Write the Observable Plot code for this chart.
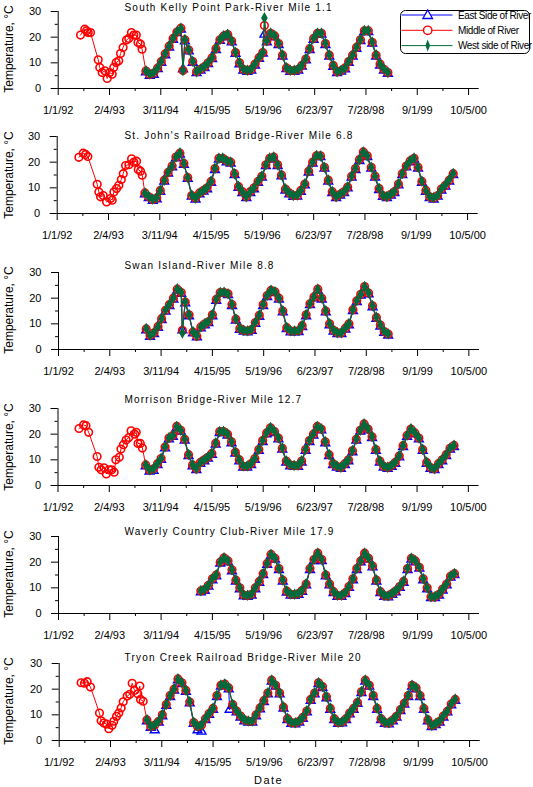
<!DOCTYPE html>
<html><head><meta charset="utf-8">
<script src="https://cdn.jsdelivr.net/npm/d3@7"></script>
<script src="https://cdn.jsdelivr.net/npm/@observablehq/plot@0.6"></script>
<style>
body{margin:0;background:#fff;}
#wrap{position:relative;width:533px;height:787px;overflow:hidden;font-family:Arial,"Liberation Sans",sans-serif;color:#000;background:#fff;}
.ttl{position:absolute;font-size:10px;letter-spacing:1.2px;white-space:nowrap;line-height:10px;}
.ylab{position:absolute;font-size:12px;white-space:nowrap;width:120px;height:14px;text-align:center;transform:rotate(-90deg);line-height:14px;}
.panel{position:absolute;left:0;}
.panel svg{overflow:visible;}
#xlab{position:absolute;font-size:11px;letter-spacing:1.5px;line-height:12px;}
#legend{position:absolute;left:399px;top:9px;}
</style></head><body><div id="wrap"></div>
<script>
// ---------- data ----------
const stationKeys = ["kelly","stjohns","swan","morrison","waverly","tryon"];
const stationTitles = [
  "South Kelly Point Park-River Mile 1.1",
  "St. John's Railroad Bridge-River Mile 6.8",
  "Swan Island-River Mile 8.8",
  "Morrison Bridge-River Mile 12.7",
  "Waverly Country Club-River Mile 17.9",
  "Tryon Creek Railroad Bridge-River Mile 20"
];
const stationFirstMonth = ["1993-11","1993-11","1993-11","1993-11","1995-01","1993-11"];
const seriesNames = ["East Side of River","Middle of River","West side of River"];
const xMajorTicks = ["1992-01-01","1993-02-04","1994-03-11","1995-04-15","1996-05-19","1997-06-23","1998-07-28","1999-09-01","2000-10-05"];
const xMinorTicks = ["1992-07-19","1993-08-23","1994-09-27","1995-11-01","1996-12-05","1998-01-09","1999-02-13","2000-03-19"];
const yMajorTicks = [0,10,20,30];
const yMinorTicks = [5,15,25];

// mid-month sampling (value read at the 15th)
const months = ["1993-11","1993-12",
"1994-01","1994-02","1994-03","1994-04","1994-05","1994-06","1994-07","1994-08","1994-09","1994-10","1994-11","1994-12",
"1995-01","1995-02","1995-03","1995-04","1995-05","1995-06","1995-07","1995-08","1995-09","1995-10","1995-11","1995-12",
"1996-01","1996-02","1996-03","1996-04","1996-05","1996-06","1996-07","1996-08","1996-09","1996-10","1996-11","1996-12",
"1997-01","1997-02","1997-03","1997-04","1997-05","1997-06","1997-07","1997-08","1997-09","1997-10","1997-11","1997-12",
"1998-01","1998-02","1998-03","1998-04","1998-05","1998-06","1998-07","1998-08","1998-09","1998-10","1998-11","1998-12",
"1999-01","1999-02","1999-03","1999-04","1999-05","1999-06","1999-07","1999-08","1999-09","1999-10","1999-11","1999-12",
"2000-01","2000-02","2000-03","2000-04","2000-05","2000-06"];

// early (1992-93) sparse Middle-of-River samples
const kellyEarlyDates = ["1992-06-23","1992-07-26","1992-08-09","1992-08-22","1992-09-09","1992-11-08","1992-11-20","1992-12-09","1992-12-29","1993-01-17","1993-02-06","1993-02-25","1993-03-09","1993-03-28","1993-04-17","1993-05-01","1993-05-21","1993-06-16","1993-07-04","1993-07-25","1993-08-12","1993-09-01","1993-09-14","1993-10-03","1993-10-16"];
const kellyEarly = [20.8,23.1,22.5,21.8,21.8,11.2,8.2,6.2,6.9,3.9,6.2,5.6,8.2,10.1,10.8,13.6,16.0,18.9,19.5,21.8,20.8,20.8,17.9,17.3,15.3];
const sjEarlyDates = ["1992-06-18","1992-07-22","1992-08-09","1992-08-27","1992-11-08","1992-11-21","1992-12-04","1992-12-25","1993-01-20","1993-02-20","1993-03-05","1993-03-18","1993-04-08","1993-04-26","1993-05-15","1993-05-30","1993-06-17","1993-07-13","1993-08-03","1993-08-21","1993-09-11","1993-09-24","1993-10-12","1993-10-25"];
const sjEarly = [21.9,23.5,23.0,22.2,11.4,8.4,6.5,7.0,4.5,5.8,5.2,8.4,9.7,11.0,13.2,15.5,18.7,19.0,21.3,20.0,20.4,17.1,16.5,14.9];
const morEarlyDates = ["1992-06-13","1992-07-18","1992-08-06","1992-08-27","1992-11-01","1992-11-15","1992-12-03","1992-12-25","1993-01-12","1993-02-02","1993-02-23","1993-03-14","1993-03-27","1993-04-23","1993-05-06","1993-05-25","1993-06-15","1993-07-06","1993-07-24","1993-08-21","1993-09-02","1993-09-16","1993-10-04","1993-10-20"];
const morEarly = [22.2,23.6,23.3,20.7,11.3,7.1,6.1,6.9,4.5,6.1,6.1,5.2,10.0,11.0,14.2,15.9,17.7,18.7,21.3,20.0,20.7,16.4,16.4,14.6];
const tryEarlyDates = ["1992-06-20","1992-07-16","1992-08-06","1992-09-01","1992-11-10","1992-11-23","1992-12-14","1993-01-04","1993-01-22","1993-02-17","1993-03-02","1993-03-23","1993-04-10","1993-04-28","1993-05-14","1993-06-14","1993-07-04","1993-07-23","1993-08-10","1993-09-05","1993-09-21","1993-09-26","1993-10-17"];
const tryEarly = [22.5,22.3,22.9,20.8,10.7,7.7,6.8,6.4,4.6,5.9,7.5,9.4,10.7,12.7,15.1,17.3,18.0,22.3,19.5,18.2,21.2,16.0,15.3];

// monthly values, from stationFirstMonth onward
const kellyMiddle = [6.8,5.5, 6,8,10.5,13.5,16.5,19.5,22,23.5,19,15,10.5,6.5, 7.5,8.5,10,12,15.5,19,20.5,21,18.5,14,10,7.5, 7,7.5,9.5,12,14,18.5,21.5,20.5,17.5,13,8,7, 7,7.5,9,11.5,15.5,19.5,21.5,21.5,17.5,13,9,6.5, 7,8,10.5,13,16,19,22.5,22.5,18,13,9.5,7.5, 6.2];
const kellyEast = [6.3,5, 5.4,7.6,10,13,16,19,21.6,23,18.4,14.5,10,6, 7,8,9.6,11.5,15,18.6,20,20.6,18,13.5,9.5,7, 6.5,7,9,11.6,13.6,18,21,20,17,12.5,7.6,6.5, 6.5,7,8.6,11,15,19,21,21,17,12.5,8.5,6, 6.6,7.5,10,12.5,15.5,18.5,22,22,17.5,12.5,9,7, 5.8];
const kellyWest = [6.9,5.7, 6.2,8.1,10.6,13.6,16.6,19.6,22.1,23.4,19.1,15.1,10.6,6.6, 7.6,8.6,10.1,12.1,15.6,19.1,20.6,21.1,18.6,14.1,10.1,7.6, 7.1,7.6,9.6,12.1,14.1,18.6,21.6,20.6,17.6,13.1,8.1,7.1, 7.1,7.6,9.1,11.6,15.6,19.6,21.6,21.6,17.6,13.1,9.1,6.6, 7.1,8.1,10.6,13.1,16.1,19.1,22.6,22.6,18.1,13.1,9.6,7.6, 6.3];

const sjMiddle = [8,6.5, 5.5,6,9,13,16,18.5,22,23.5,19.5,14,7,6, 8,9,10,12.5,17.5,21.5,21.5,20.5,20,15.5,10.5,8.5, 6.5,8.5,10,12.5,14.5,19,21.5,22,19,15,9.5,8, 7,7,9,11.5,16.5,20,22.5,22.5,18,13,8.5,6.5, 7.5,8.5,10.3,14.5,17.5,21,24,22.5,18,14.5,9.7,7, 6.5,7.5,8.5,11.5,15.5,18.5,20.5,21.5,18,12.5,9,6.5, 6,7,9.5,11,13,15.5];
const sjEast = [7.5,6, 5,5.6,8.5,12.5,15.6,18,21.5,23,19,13.5,6.6,5.5, 7.5,8.6,9.5,12,17,21,21,20,19.5,15,10,8, 6,8,9.5,12,14,18.5,21,21.5,18.5,14.5,9,7.5, 6.5,6.6,8.5,11,16,19.5,22,22,17.5,12.5,8,6, 7,8,9.8,14,17,20.5,23.5,22,17.5,14,9.2,6.5, 6,7,8,11,15,18,20,21,17.5,12,8.5,6, 5.5,6.6,9,10.5,12.5,15];
const sjWest = [8,6.6, 5.6,6.2,9,13,16.2,18.5,22,23.6,19.5,14,7.2,6, 8,9,10.2,12.6,17.6,21.5,21.6,20.5,20,15.5,10.6,8.5, 6.6,8.5,10,12.6,14.6,19,21.6,22,19,15,9.6,8, 7,7.2,9,11.6,16.6,20,22.6,22.4,18,13,8.6,6.6, 7.6,8.5,10.4,14.6,17.6,21,24,22.4,18,14.5,9.8,7, 6.6,7.6,8.6,11.6,15.6,18.6,20.6,21.6,18,12.6,9,6.6, 6.2,7,9.6,11.2,13.2,15.6];

const swanMiddle = [8,5.5, 6.5,9,12,15.3,17.5,20,23.5,22.2,18.5,13.5,6.8,5.2, 8.8,10,10.8,13.5,19.5,22.2,22.2,21.7,17.5,11.8,8.2,7.4, 7.2,7.8,10.5,13.3,17.5,21,23,22.5,20,15,8.5,7.2, 7.2,7.3,9.3,13.5,17.8,20.5,23.5,20,15,10,7.5,6.5, 6.5,8.3,10,15.5,19,21.5,24.5,22,17,12.5,9.5,7, 6];
const swanEast = [7.5,5, 6,8.5,11.5,14.8,17,19.5,23,21.7,18,13,6.3,4.8, 8.3,9.5,10.3,13,19,21.7,21.7,21.2,17,11.3,7.7,7, 6.7,7.3,10,12.8,17,20.5,22.5,22,19.5,14.5,8,6.7, 6.7,6.8,8.8,13,17.3,20,23,19.5,14.5,9.5,7,6, 6,7.8,9.5,15,18.5,21,24,21.5,16.5,12,9,6.5, 5.5];
const swanWest = [8.2,5.6, 6.6,9,12.1,15.4,17.6,20.1,23.6,22.2,18.6,13.6,6.9,5.4, 8.8,10.1,10.9,13.6,19.6,22.2,22.3,21.7,17.6,11.9,8.2,7.5, 7.3,7.9,10.6,13.4,17.6,21.1,23.1,22.5,20,15.1,8.6,7.3, 7.2,7.4,9.4,13.6,17.9,20.6,23.5,20.1,15.1,10.1,7.6,6.6, 6.6,8.4,10.1,15.6,19.1,21.6,24.5,22.1,17.1,12.6,9.6,7.1, 6.1];

const morMiddle = [8,6, 6.5,8.5,10.5,15,18.5,19.5,23,21.5,18,12,8,6.5, 9,10,11,12.5,16.5,21,21,20,17,13,10,7.5, 7.5,8.5,10.5,14,17.5,20.5,22.5,21,18.5,14.5,9.5,8, 7.8,7.8,9.5,14,17.5,20,23,22,17,12,8.5,7.5, 7,8.5,10,13.5,18,21.5,24,22,19,14,9.5,7.5, 7,7.8,9,11.5,15.5,19.5,22,20.5,18.5,14,9,7, 6.5,8.5,10,12,14.5,15.6];
const morEast = [7.5,5.5, 5.8,8,10,14.5,18,19,22.5,21,17.5,11.5,7.5,6, 8.5,9.5,10.5,12,16,20.5,20.5,19.5,16.5,12.5,9.5,7, 7,8,10,13.5,17,20,22,20.5,18,14,9,7.5, 7.3,7.3,9,13.5,17,19.5,22.5,21.5,16.5,11.5,8,7, 6.5,8,9.5,13,17.5,21,23.5,21.5,18.5,13.5,9,7, 6.5,7.3,8.5,11,15,19,21.5,20,18,13.5,8.5,6.5, 6,8,9.5,11.5,14,15];
const morWest = [8.1,6.1, 6.6,8.6,10.6,15.1,18.6,19.6,23,21.6,18.1,12.1,8.1,6.6, 9,10.1,11.1,12.6,16.6,21,21.1,20.1,17.1,13.1,10.1,7.6, 7.6,8.6,10.6,14.1,17.6,20.6,22.6,21.1,18.6,14.6,9.6,8.1, 7.8,7.9,9.6,14.1,17.6,20.1,23,22.1,17.1,12.1,8.6,7.6, 7.1,8.6,10.1,13.6,18.1,21.6,24,22.1,19.1,14.1,9.6,7.6, 7.1,7.9,9.1,11.6,15.6,19.6,22.1,20.6,18.6,14.1,9.1,7.1, 6.6,8.6,10.1,12.1,14.6,15.7];

const wavMiddle = [8.8,9.4,11,13.5,15,20,21.7,20.5,17,13,10,7.2, 7,7.5,10,12.5,15.5,19.5,23,21.5,17.5,13,8.7,7.5, 7.4,7.8,9,11.5,17.5,21,23.5,21,15,11.5,8.5,7, 7,8.1,10.5,13.5,17.5,20.5,23.5,21.5,18.5,13,8.5,7, 6.8,7.8,8.8,10.5,12.5,17.5,21.5,20.5,18,13.5,10,6.5, 6.5,7.5,9.5,11.5,14.5,15.5];
const wavEast = [8.3,8.9,10.5,13,14.5,19.5,21.2,20,16.5,12.5,9.5,6.7, 6.5,7,9.5,12,15,19,22.5,21,17,12.5,8.2,7, 6.9,7.3,8.5,11,17,20.5,23,20.5,14.5,11,8,6.5, 6.5,7.6,10,13,17,20,23,21,18,12.5,8,6.5, 6.3,7.3,8.3,10,12,17,21,20,17.5,13,9.5,6, 6,7,9,11,14,15];
const wavWest = [8.9,9.5,11.1,13.6,15.1,20.1,21.7,20.6,17.1,13.1,10.1,7.3, 7.1,7.6,10.1,12.6,15.6,19.6,23,21.6,17.6,13.1,8.8,7.6, 7.5,7.9,9.1,11.6,17.6,21.1,23.5,21.1,15.1,11.6,8.6,7.1, 7.1,8.2,10.6,13.6,17.6,20.6,23.5,21.6,18.6,13.1,8.6,7.1, 6.9,7.9,8.9,10.6,12.6,17.6,21.6,20.6,18.1,13.6,10.1,6.6, 6.6,7.6,9.6,11.6,14.6,15.6];

const tryMiddle = [8,5.5, 6,7.5,10,14,17.5,20,24,22.5,19.5,15,7,5.5, 6,8.5,10.5,12.5,17.5,21.5,22,20.5,14,11.5,9.5,8, 7.5,7.5,10,12.7,15.5,18.5,23.5,21.5,18.5,13,8.5,7, 6.8,7.5,9,11.5,16,18.5,22.5,21,17,12.5,8.5,7, 7.2,8.5,10.7,12.5,14.8,19,23.5,21.5,17.5,12.5,8.5,7, 6.8,8,9.4,12,14.5,17.5,21.5,20.5,17.5,12.5,8,5.8, 6.5,7.5,9.5,11.4,14.2,16];
const tryEast = [7.5,5, 4,7,9.5,13.5,17,19.5,23.5,22,19,14.5,6.5,4, 3.5,8,10,12,17,21,21.5,20,13.5,11,9,7.5, 7,7,9.5,12.2,15,18,23,21,18,12.5,8,6.5, 6.3,7,8.5,11,15.5,18,22,20.5,16.5,12,8,6.5, 6.7,8,10.2,12,14.3,18.5,23,21,17,12,8,6.5, 6.3,7.5,9,11.5,14,17,21,20,17,12,7.5,5.3, 6,7,9,11,13.7,15.5];
const tryWest = [8.1,5.6, 6.1,7.6,10.1,14.1,17.6,20.1,24,22.5,19.6,15.1,7.1,5.6, 6.1,8.6,10.6,12.6,17.6,21.6,22,20.6,14.1,11.6,9.6,8.1, 7.6,7.6,10.1,12.8,15.6,18.6,23.5,21.6,18.6,13.1,8.6,7.1, 6.9,7.6,9.1,11.6,16.1,18.6,22.5,21.1,17.1,12.6,8.6,7.1, 7.3,8.6,10.8,12.6,14.9,19.1,23.5,21.6,17.6,12.6,8.6,7.1, 6.9,8.1,9.5,12.1,14.6,17.6,21.5,20.6,17.6,12.6,8.1,5.9, 6.6,7.6,9.6,11.5,14.3,16.1];

// single off-pattern readings
const outlierStation = ["kelly","kelly","kelly","kelly","kelly","kelly","swan","swan","swan","tryon"];
const outlierSeries  = ["middle","east","west","middle","east","west","middle","east","west","east"];
const outlierDate    = ["1994-08-31","1994-08-31","1994-08-31","1996-05-27","1996-05-27","1996-05-27","1994-08-24","1994-08-24","1994-08-24","1995-08-22"];
const outlierValue   = [7,7.5,7,24.5,21,27.5,7.5,7.5,6.5,12];

// ---------- assembly ----------
const stationEast   = [kellyEast, sjEast, swanEast, morEast, wavEast, tryEast];
const stationMiddle = [kellyMiddle, sjMiddle, swanMiddle, morMiddle, wavMiddle, tryMiddle];
const stationWest   = [kellyWest, sjWest, swanWest, morWest, wavWest, tryWest];
const stationEarlyDates = [kellyEarlyDates, sjEarlyDates, null, morEarlyDates, null, tryEarlyDates];
const stationEarly      = [kellyEarly, sjEarly, null, morEarly, null, tryEarly];

function rowsFor(i, key, values) {
  const i0 = months.indexOf(stationFirstMonth[i]);
  const rows = values.map((v, j) => ({date: new Date(months[i0 + j] + "-15"), temp: v}));
  if (key === "middle" && stationEarlyDates[i]) {
    stationEarlyDates[i].forEach((d, j) => rows.push({date: new Date(d), temp: stationEarly[i][j]}));
  }
  outlierStation.forEach((s, j) => {
    if (s === stationKeys[i] && outlierSeries[j] === key) rows.push({date: new Date(outlierDate[j]), temp: outlierValue[j]});
  });
  rows.sort((a, b) => a.date - b.date);
  return rows;
}

// ---------- layout ----------
const BLUE = "#0000ff", RED = "#ff0000", GREEN = "#006b3c";
const panelTop = [10.7, 136, 271.7, 408, 535.5, 662.7];   // y of the 30 gridline
const panelLeft = [57.7, 56.7, 58, 57.5, 58, 58.7];
const titleBase = [11.5, 139.5, 270, 404, 536, 662];
const PH = 77, MT = 4, MB = 34, AXW = 421;
const fmt = d3.utcFormat("%-m/%-d/%y");
const wrap = document.getElementById("wrap");

stationKeys.forEach((k, i) => {
  const east = rowsFor(i, "east", stationEast[i]);
  const mid = rowsFor(i, "middle", stationMiddle[i]);
  const west = rowsFor(i, "west", stationWest[i]);
  const chart = Plot.plot({
    width: 533, height: MT + PH + MB,
    marginTop: MT, marginBottom: MB, marginLeft: panelLeft[i], marginRight: 533 - panelLeft[i] - AXW,
    x: {type: "utc", domain: [new Date("1992-01-01"), new Date("2000-12-27")]},
    y: {domain: [0, 30]},
    style: {background: "transparent", fontFamily: "Arial, 'Liberation Sans', sans-serif", fontSize: "11px", color: "#000", overflow: "visible"},
    marks: [
      Plot.axisY({ticks: yMajorTicks, tickSize: 7, tickPadding: 10, label: null}),
      Plot.axisY({ticks: yMinorTicks, tickSize: 3, tickFormat: () => "", label: null}),
      Plot.axisX({ticks: xMajorTicks.map(d => new Date(d)), tickSize: 7, tickPadding: 11, tickFormat: fmt, label: null}),
      Plot.axisX({ticks: xMinorTicks.map(d => new Date(d)), tickSize: 3, tickFormat: () => "", label: null}),
      Plot.ruleY([0], {stroke: "#000"}),
      Plot.ruleX([new Date("1992-01-01")], {y1: 0, y2: 30, stroke: "#000"}),
      Plot.line(east, {x: "date", y: "temp", stroke: BLUE, strokeWidth: 1}),
      Plot.dot(east, {x: "date", y: "temp", symbol: "triangle", r: 3.3, stroke: BLUE, fill: "none", strokeWidth: 1.4}),
      Plot.line(mid, {x: "date", y: "temp", stroke: RED, strokeWidth: 1}),
      Plot.dot(mid, {x: "date", y: "temp", symbol: "circle", r: 3.8, stroke: RED, fill: "none", strokeWidth: 1.6}),
      Plot.line(west, {x: "date", y: "temp", stroke: GREEN, strokeWidth: 1.2}),
      Plot.dot(west, {x: "date", y: "temp", symbol: "diamond", r: 2.8, fill: GREEN, stroke: GREEN, strokeWidth: 1.2})
    ]
  });
  const holder = document.createElement("div");
  holder.className = "panel";
  holder.style.top = (panelTop[i] - MT) + "px";
  holder.appendChild(chart);
  wrap.appendChild(holder);

  const t = document.createElement("div");
  t.className = "ttl";
  t.textContent = stationTitles[i];
  t.style.left = "124.5px";
  t.style.top = (titleBase[i] - 9) + "px";
  wrap.appendChild(t);

  const yl = document.createElement("div");
  yl.className = "ylab";
  yl.textContent = "Temperature, °C";
  yl.style.left = (8.5 - 60) + "px";
  yl.style.top = (panelTop[i] + PH / 2 - 7) + "px";
  wrap.appendChild(yl);
});

const xl = document.createElement("div");
xl.id = "xlab";
xl.textContent = "Date";
xl.style.left = "254px";
xl.style.top = "774px";
wrap.appendChild(xl);

// legend (key)
const ns = "http://www.w3.org/2000/svg";
const lg = document.createElementNS(ns, "svg");
lg.id = "legend";
lg.setAttribute("width", 133); lg.setAttribute("height", 47);
const legendColors = [BLUE, RED, GREEN];
let html = `<rect x="1.5" y="1.5" width="129" height="43" rx="5" ry="5" fill="#fff" stroke="#000" stroke-width="1"/>`;
seriesNames.forEach((n, j) => {
  const cy = 6 + j * 15.3;
  html += `<line x1="2.5" x2="53.5" y1="${cy}" y2="${cy}" stroke="${legendColors[j]}" stroke-width="1"/>`;
  if (j === 0) html += `<path d="M28.7,${cy-5} L33.5,${cy+3.5} L23.9,${cy+3.5} Z" fill="#fff" stroke="${BLUE}" stroke-width="1.3"/>`;
  if (j === 1) html += `<circle cx="28.7" cy="${cy}" r="4.2" fill="#fff" stroke="${RED}" stroke-width="1.4"/>`;
  if (j === 2) html += `<path d="M28.7,${cy-6} L31,${cy} L28.7,${cy+6} L26.4,${cy} Z" fill="${GREEN}"/>`;
  html += `<text x="59" y="${cy + 3.6}" font-family="Arial, 'Liberation Sans', sans-serif" font-size="10" letter-spacing="-0.4" fill="#000">${n}</text>`;
});
lg.innerHTML = html;
wrap.appendChild(lg);
</script></body></html>
